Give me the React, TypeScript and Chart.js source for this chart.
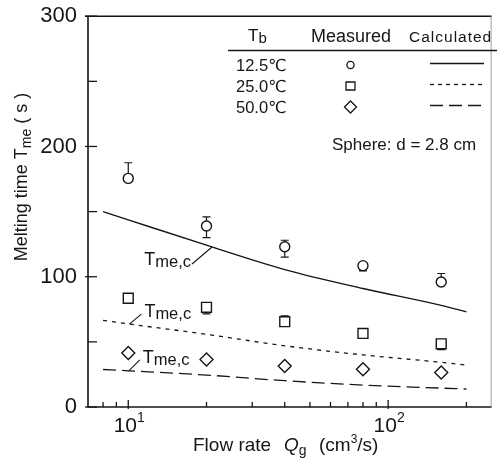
import React, { useEffect, useRef } from 'react';
import { Chart, registerables } from 'chart.js';
Chart.register(...registerables);

const FONT = '"Liberation Sans", Arimo, "DejaVu Sans", sans-serif';
const INK = '#161616';

// Measured data (flow rate Qg, cm3/s)
const flowRates = [10, 20, 40, 80, 160];
const measured125 = [175.5, 139, 123, 108.5, 96];
const err125Up = [12, 7, 5, 0, 6.5];
const err125Down = [0, 9, 8, 4, 0];
const measured250 = [83.5, 76.5, 65.5, 56.5, 48.5];
const err250Up = [0, 3.5, 4.5, 0, 0];
const err250Down = [0, 5, 0, 0, 4.5];
const measured500 = [41.5, 36.5, 31.5, 29, 26.5];

// Calculated curves
const calcFlow = [8, 10, 20, 40, 80, 160, 200];
const calc125 = [150, 143.7, 124.2, 105.5, 91, 78, 73];
const calc250 = [66.5, 63.8, 55.8, 47, 40, 34.3, 32.1];
const calc500 = [28.8, 27.8, 24.5, 20.2, 16.8, 14.5, 13.8];

const seriesLabels = ['12.5℃', '25.0℃', '50.0℃'];
const yTickStep = 50;
const xMajorTicks = [10, 100];
const xMajorExps = ['1', '2'];
const xMinorTicks = [8, 9, 20, 30, 40, 50, 60, 70, 80, 90, 200];

const pts = (xs: number[], ys: number[]) => xs.map((x, i) => ({ x, y: ys[i] }));

function font(size: number, italic = false) {
  return `${italic ? 'italic ' : ''}${size}px ${FONT}`;
}

type Part = { t: string; s: number; dy?: number; it?: boolean; at?: number };
function drawParts(ctx: CanvasRenderingContext2D, parts: Part[], x: number, y: number, align: 'left' | 'center' = 'left') {
  ctx.textAlign = 'left';
  ctx.textBaseline = 'alphabetic';
  let total = 0;
  for (const p of parts) { ctx.font = font(p.s, p.it); total += ctx.measureText(p.t).width; }
  let cx = align === 'center' ? x - total / 2 : x;
  for (const p of parts) {
    if (p.at !== undefined) cx = p.at;
    ctx.font = font(p.s, p.it);
    ctx.fillText(p.t, cx, y + (p.dy || 0));
    cx += ctx.measureText(p.t).width;
  }
  return total;
}

export default function App() {
  const ref = useRef<HTMLCanvasElement>(null);
  useEffect(() => {
    const canvas = ref.current;
    if (!canvas) return;

    const deco = {
      id: 'deco',
      beforeDatasetsDraw(chart: any) {
        const ctx: CanvasRenderingContext2D = chart.ctx;
        const xs = chart.scales.x, ys = chart.scales.y;
        ctx.save();
        ctx.strokeStyle = INK;
        ctx.lineWidth = 1.2;
        const bars = [
          { v: measured125, up: err125Up, dn: err125Down },
          { v: measured250, up: err250Up, dn: err250Down },
        ];
        for (const b of bars) {
          flowRates.forEach((q, i) => {
            const up = b.up[i], dn = b.dn[i];
            if (!up && !dn) return;
            const px = xs.getPixelForValue(q);
            const yTop = ys.getPixelForValue(b.v[i] + up);
            const yBot = ys.getPixelForValue(b.v[i] - dn);
            ctx.beginPath();
            ctx.moveTo(px, yTop); ctx.lineTo(px, yBot);
            if (up) { ctx.moveTo(px - 4, yTop); ctx.lineTo(px + 4, yTop); }
            if (dn) { ctx.moveTo(px - 4, yBot); ctx.lineTo(px + 4, yBot); }
            ctx.stroke();
          });
        }
        ctx.restore();
      },
      afterDraw(chart: any) {
        const ctx: CanvasRenderingContext2D = chart.ctx;
        const { left, right, top, bottom } = chart.chartArea;
        const xs = chart.scales.x, ys = chart.scales.y;
        ctx.save();
        ctx.strokeStyle = INK;
        ctx.fillStyle = INK;
        // frame
        ctx.lineWidth = 1.6;
        ctx.beginPath();
        ctx.moveTo(left - 3, top); ctx.lineTo(right, top);
        ctx.moveTo(left, top); ctx.lineTo(left, bottom);
        ctx.lineTo(right, bottom);
        ctx.stroke();
        ctx.lineWidth = 0.8;
        ctx.strokeStyle = '#888';
        ctx.beginPath();
        ctx.moveTo(right - 0.5, top); ctx.lineTo(right - 0.5, bottom);
        ctx.stroke();
        ctx.strokeStyle = INK;
        // y ticks
        ctx.lineWidth = 1.3;
        for (let v = ys.min; v <= ys.max; v += yTickStep) {
          const py = ys.getPixelForValue(v);
          const major = v % 100 === 0;
          ctx.beginPath();
          ctx.moveTo(left - (major ? 3 : 0), py);
          ctx.lineTo(left + 9, py);
          ctx.stroke();
        }
        // x ticks
        for (const q of xMinorTicks) {
          const px = xs.getPixelForValue(q);
          ctx.beginPath(); ctx.moveTo(px, bottom); ctx.lineTo(px, bottom - 5); ctx.stroke();
        }
        xMajorTicks.forEach((q, i) => {
          const px = xs.getPixelForValue(q);
          ctx.beginPath(); ctx.moveTo(px, bottom + 2); ctx.lineTo(px, bottom - 7); ctx.stroke();
          drawParts(ctx, [{ t: '10', s: 21 }, { t: xMajorExps[i], s: 14, dy: -10 }], px + 1, bottom + 25, 'center');
        });

        // axis titles
        drawParts(ctx, [
          { t: 'Flow rate', s: 19, at: 193 },
          { t: 'Q', s: 19, it: true, at: 284 },
          { t: 'g', s: 14, dy: 4 },
          { t: '(cm', s: 19, at: 319 },
          { t: '3', s: 12, dy: -8 },
          { t: '/s)', s: 19 },
        ], 193, 451);

        ctx.save();
        ctx.translate(27, 177);
        ctx.rotate(-Math.PI / 2);
        drawParts(ctx, [
          { t: 'Melting time ', s: 18 },
          { t: 'T', s: 18 },
          { t: 'me', s: 14, dy: 4 },
          { t: ' ( s )', s: 18 },
        ], 0, 0, 'center');
        ctx.restore();

        // legend table
        drawParts(ctx, [{ t: 'T', s: 17 }, { t: 'b', s: 15, dy: 2 }], 248, 41);
        ctx.font = font(18);
        ctx.fillText('Measured', 311, 42);
        (ctx as any).letterSpacing = '1px';
        ctx.font = font(15.5);
        ctx.fillText('Calculated', 409, 42);
        (ctx as any).letterSpacing = '0px';
        ctx.lineWidth = 1.3;
        ctx.beginPath(); ctx.moveTo(228, 50.5); ctx.lineTo(497, 50.5); ctx.stroke();

        const rowY = [65, 86, 107];
        const dashes = [[], [4, 4], [13, 6]];
        const styles = ['circle', 'rect', 'rectRot'];
        rowY.forEach((ry, i) => {
          ctx.font = font(16.5);
          ctx.fillStyle = INK;
          ctx.fillText(seriesLabels[i], 236, ry + 6);
          // marker
          ctx.lineWidth = 1.3;
          ctx.beginPath();
          if (styles[i] === 'circle') ctx.arc(350.5, ry, 3.6, 0, Math.PI * 2);
          else if (styles[i] === 'rect') ctx.rect(346, ry - 4, 9, 8);
          else { ctx.moveTo(344.5, ry); ctx.lineTo(350.5, ry - 6); ctx.lineTo(356.5, ry); ctx.lineTo(350.5, ry + 6); ctx.closePath(); }
          ctx.stroke();
          // line sample
          ctx.setLineDash(dashes[i]);
          ctx.lineWidth = 1.3;
          ctx.beginPath(); ctx.moveTo(430, ry - 1.5); ctx.lineTo(484, ry - 1.5); ctx.stroke();
          ctx.setLineDash([]);
        });

        ctx.font = font(17);
        ctx.fillText('Sphere: d = 2.8 cm', 332, 150);

        // Tme,c annotations: anchor on curve (data units) + leader
        const anns = [
          { q: 21, v: 122.8, dx: -20, dy: 17, textRight: true },
          { q: 10.1, v: 63.6, dx: 12, dy: -10, textRight: false },
          { q: 10.05, v: 27.8, dx: 11, dy: -11, textRight: false },
        ];
        ctx.lineWidth = 1.1;
        for (const a of anns) {
          const ax = xs.getPixelForValue(a.q), ay = ys.getPixelForValue(a.v);
          const ex = ax + a.dx, ey = ay + a.dy;
          ctx.beginPath(); ctx.moveTo(ax, ay); ctx.lineTo(ex, ey); ctx.stroke();
          const parts: Part[] = [{ t: 'T', s: 18 }, { t: 'me,c', s: 16.5, dy: 2 }];
          if (a.textRight) {
            ctx.font = font(18); const w1 = ctx.measureText('T').width;
            ctx.font = font(16.5); const w2 = ctx.measureText('me,c').width;
            drawParts(ctx, parts, ex - w1 - w2 - 1, ey + 1);
          } else {
            drawParts(ctx, parts, ex + 3, ey + 3);
          }
        }
        ctx.restore();
      },
    };

    const common = { borderColor: INK, backgroundColor: '#ffffff' };
    const chart = new Chart(canvas, {
      type: 'scatter',
      data: {
        datasets: [
          { ...common, type: 'line', data: pts(calcFlow, calc125), showLine: true, pointRadius: 0, borderWidth: 1.4, cubicInterpolationMode: 'monotone' } as any,
          { ...common, type: 'line', data: pts(calcFlow, calc250), showLine: true, pointRadius: 0, borderWidth: 1.3, borderDash: [4, 5], cubicInterpolationMode: 'monotone' } as any,
          { ...common, type: 'line', data: pts(calcFlow, calc500), showLine: true, pointRadius: 0, borderWidth: 1.3, borderDash: [13, 6], cubicInterpolationMode: 'monotone' } as any,
          { ...common, data: pts(flowRates, measured125), pointStyle: 'circle', pointRadius: 5, borderWidth: 1.4, pointBackgroundColor: '#fff' },
          { ...common, data: pts(flowRates, measured250), pointStyle: 'rect', pointRadius: 7, borderWidth: 1.4, pointBackgroundColor: '#fff' },
          { ...common, data: pts(flowRates, measured500), pointStyle: 'rectRot', pointRadius: 6.5, borderWidth: 1.4, pointBackgroundColor: '#fff' },
        ],
      },
      options: {
        animation: false,
        responsive: false,
        maintainAspectRatio: false,
        layout: { padding: { top: 15, right: 1, left: 0, bottom: 0 } },
        plugins: { legend: { display: false }, tooltip: { enabled: false } },
        scales: {
          x: {
            type: 'logarithmic', min: 7, max: 250,
            grid: { display: false }, border: { display: false },
            ticks: { display: false },
            afterFit: (s: any) => { s.height = 56; },
          },
          y: {
            type: 'linear', min: 0, max: 300,
            grid: { display: false }, border: { display: false },
            ticks: {
              stepSize: yTickStep, autoSkip: false, padding: 3, color: INK,
              font: { family: FONT, size: 22 },
              callback: (v: any) => (Number(v) % 100 === 0 ? String(v) : ''),
            },
            afterFit: (s: any) => { s.width = 88; },
          },
        },
      },
      plugins: [deco],
    } as any);
    return () => chart.destroy();
  }, []);

  return (
    <div style={{ position: 'fixed', left: 0, top: 0, width: 500, height: 463, background: '#fff' }}>
      <canvas ref={ref} width={500} height={463} style={{ display: 'block' }} />
    </div>
  );
}
